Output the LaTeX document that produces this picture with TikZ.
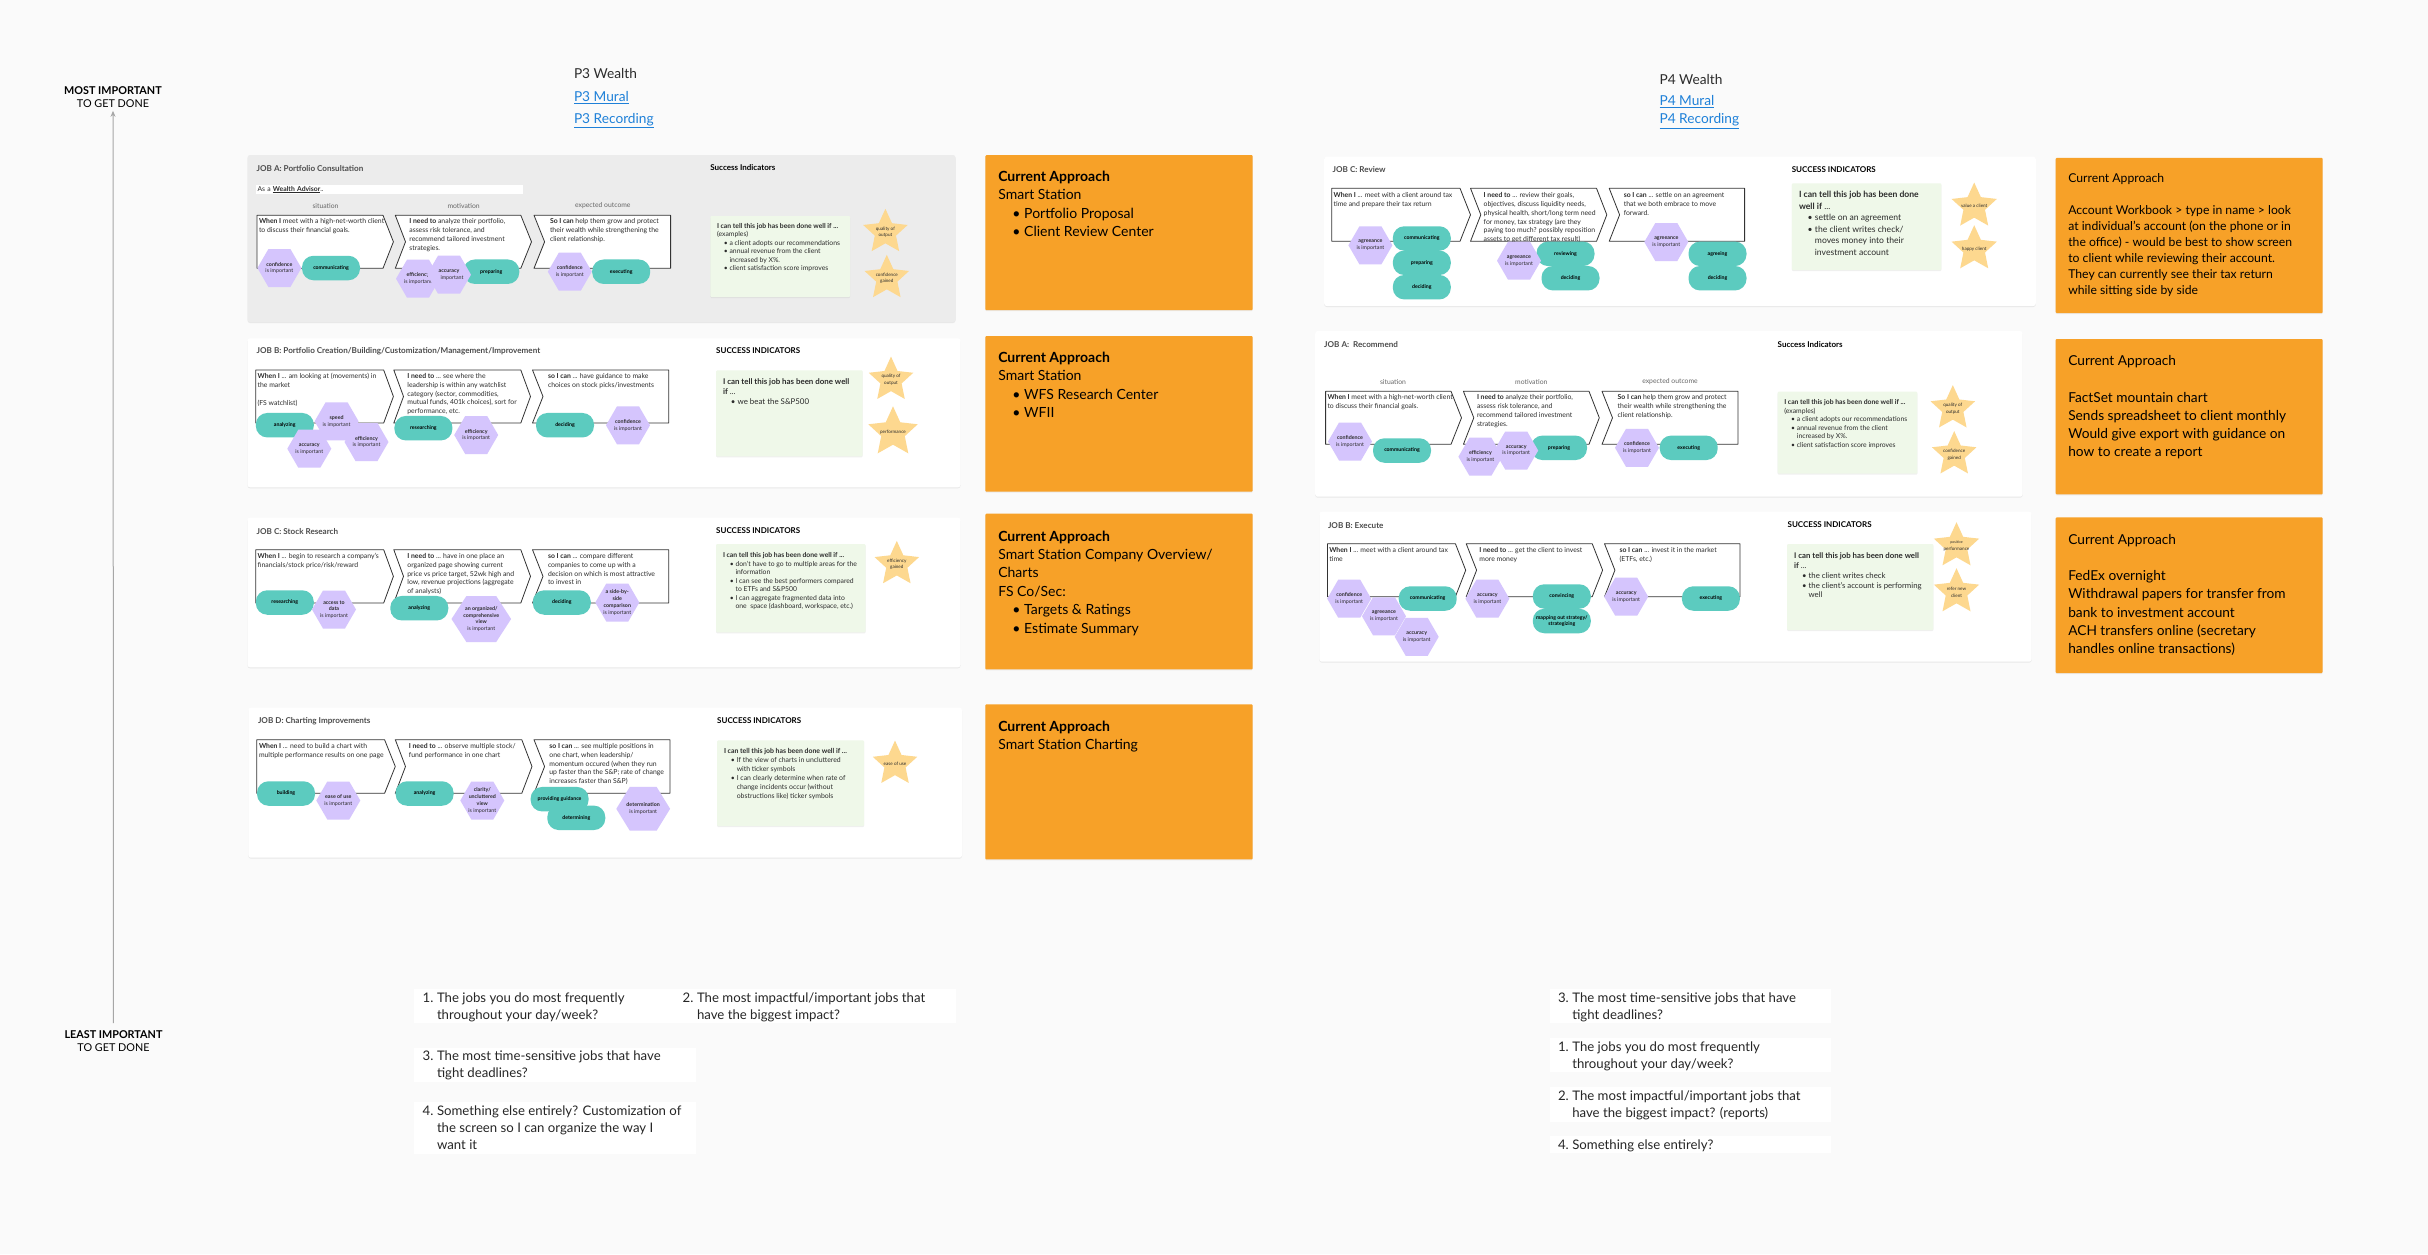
\documentclass[tikz,border=0pt]{standalone}
\usepackage{fontspec}
\setmainfont{Lato}
\usetikzlibrary{shapes.geometric,shadows,positioning,arrows.meta}

\definecolor{pagebg}{HTML}{FAFAFA}
\definecolor{cardgrey}{HTML}{ECECEC}
\definecolor{pilltone}{HTML}{5CCBBF}
\definecolor{hextone}{HTML}{D5C5FD}
\definecolor{startone}{HTML}{FDD88F}
\definecolor{greenbox}{HTML}{EFF8E9}
\definecolor{orangebox}{HTML}{F7A128}
\definecolor{linkblue}{HTML}{1E80D8}
\definecolor{inktone}{HTML}{2B2B2B}

\newcommand{\fs}[2]{\fontsize{#1}{#2}\selectfont}
\newcommand{\imp}[1]{\textbf{#1}\\is important}
\newcommand{\bi}[1]{\hspace*{1em}\makebox[0.85em][l]{\textbullet}#1}
\newcommand{\bc}[1]{\hspace*{1.85em}#1}
\newcommand{\num}[2]{\makebox[0pt][r]{#1.\hspace{3.5pt}}#2}

% chevrons: first has a flat tail, last has a flat head
\newcommand{\chevfirst}[5]{\draw[chevline] (#1,#4) -- (#2,#4) -- (#3,{(#4+#5)/2}) -- (#2,#5) -- (#1,#5) -- cycle;}
\newcommand{\chevmid}[6]{\draw[chevline] (#1,#5) -- (#3,#5) -- (#4,{(#5+#6)/2}) -- (#3,#6) -- (#1,#6) -- (#2,{(#5+#6)/2}) -- cycle;}
\newcommand{\chevlast}[5]{\draw[chevline] (#1,#4) -- (#3,#4) -- (#3,#5) -- (#1,#5) -- (#2,{(#4+#5)/2}) -- cycle;}
% hexagons: name, x, y, width, height, text
\newcommand{\hexb}[6]{%
	\fill[hextone] ({#2-#4/2},#3) -- ({#2-#4/4},{#3-#5/2}) -- ({#2+#4/4},{#3-#5/2}) -- ({#2+#4/2},#3) -- ({#2+#4/4},{#3+#5/2}) -- ({#2-#4/4},{#3+#5/2}) -- cycle;
	\node[hextext] (#1) at (#2,#3) {#6};}
\newcommand{\hexa}[4]{\hexb{#1}{#2}{#3}{44}{38}{#4}}
% stars: name, x, y, radius, text
\newcommand{\badge}[5]{%
	\node[starmark, minimum size=#4*2pt] (#1) at (#2,#3) {};
	\node[startext] (#1t) at (#2,#3) {#5};}

\tikzset{
	every node/.style={inner sep=0pt, outer sep=0pt, text=inktone},
	jobcard/.style={fill=white, rounded corners=2.5pt, anchor=north west, drop shadow={opacity=.14, shadow xshift=0pt, shadow yshift=-1pt}},
	greycard/.style={jobcard, fill=cardgrey},
	successbox/.style={fill=greenbox, anchor=north west, rounded corners=1pt, drop shadow={opacity=.12, shadow xshift=0pt, shadow yshift=-1pt}},
	approachbox/.style={fill=orangebox, anchor=north west, rounded corners=1pt, drop shadow={opacity=.12, shadow xshift=0pt, shadow yshift=-1pt}},
	whitebar/.style={fill=white, anchor=north west},
	jobtitle/.style={anchor=west, font=\fs{8.1}{9}\bfseries, text=black!70},
	sucstitle/.style={anchor=west, font=\fs{8}{9}\bfseries, text=black},
	steplabel/.style={font=\fs{6.8}{8}, text=black!60},
	chevline/.style={draw=black!80, line width=0.8pt, fill=white, line join=round},
	chevtext/.style={anchor=north west, align=left, yshift=-0.5pt, font=\fs{6.85}{8.75}},
	succtext/.style={anchor=north west, align=left, yshift=-0.5pt, font=\fs{6.8}{8.55}},
	pill/.style={fill=pilltone, rounded corners=11.5pt, minimum width=58pt, minimum height=24.5pt, align=center, font=\fs{5.2}{6.6}\bfseries, text=black},
	hextext/.style={align=center, font=\fs{5.3}{6.8}},
	starmark/.style={star, star points=5, star point ratio=2.1, fill=startone},
	startext/.style={align=center, font=\fs{4.6}{6.8}},
	apptext/.style={anchor=north west, align=left, yshift=-2pt, font=\fs{14}{18.4}, text=black},
	listtext/.style={anchor=north west, align=left, yshift=-1pt, font=\fs{13.2}{17}, text=black!85},
	headtext/.style={anchor=west, font=\fs{13.7}{16}},
	linktext/.style={headtext, yshift=-1.5pt, text=linkblue},
	axislabel/.style={align=center, font=\fs{10.8}{13.7}, text=black},
}

\begin{document}
\begin{tikzpicture}[x=1pt, y=-1pt]
	\useasboundingbox (0,0) rectangle (2428,1254);
	\fill[pagebg] (0,0) rectangle (2428,1254);

	% importance axis
	\node[axislabel] (most) at (113,97) {\textbf{MOST IMPORTANT}\\TO GET DONE};
	\node[axislabel] (least) at (113.5,1041) {\textbf{LEAST IMPORTANT}\\TO GET DONE};
	\draw[black!35, line width=1pt, -{Stealth[length=6pt, width=5pt]}, shorten >=3pt, shorten <=7pt] (least.north) -- (most.south);

	% column headers
	\node[headtext] (pthree) at (574,74) {P3 Wealth};
	\node[linktext] (pthreem) at (574,96.5) {\underline{P3 Mural}};
	\node[linktext] (pthreer) at (574,119) {\underline{P3 Recording}};
	\node[headtext] (pfour) at (1659.5,79.5) {P4 Wealth};
	\node[linktext] (pfourm) at (1659.5,100.5) {\underline{P4 Mural}};
	\node[linktext] (pfourr) at (1659.5,119.5) {\underline{P4 Recording}};

	% P3 job A
	\node[greycard, minimum width=708pt, minimum height=167pt] (cardpa) at (247.5,155) {};
	\node[jobtitle] (cardpat) at (256.7,168.7) {JOB A: Portfolio Consultation};
	\node[sucstitle] (cardpas) at (710.4,168) {Success Indicators};
	\node[whitebar, minimum width=267pt, minimum height=9pt, text width=266pt, align=left, font=\fs{6.8}{8}] (advisor) at (256,185) {\hspace*{1pt}As a \underline{\textbf{Wealth Advisor}}..};
	\node[steplabel] (pasit) at (325.5,205.7) {situation};
	\node[steplabel] (pamot) at (463.6,205.7) {motivation};
	\node[steplabel] (paexp) at (602.8,205.7) {expected outcome};
	\chevfirst{257}{383}{393.4}{215.3}{268.3}
	\chevmid{395.3}{405.5}{520.8}{531.5}{215.3}{268.3}
	\chevlast{534}{544.6}{670.6}{215.3}{268.3}
	\node[chevtext] (pat1) at (259,218.4) {\textbf{When I} meet with a high-net-worth client\\to discuss their financial goals.};
	\node[chevtext] (pat2) at (409.4,218.4) {\textbf{I need to} analyze their portfolio,\\assess risk tolerance, and\\recommend tailored investment\\strategies.};
	\node[chevtext] (pat3) at (550,218.4) {\textbf{So I can} help them grow and protect\\their wealth while strengthening the\\client relationship.};
	\hexa{pah1}{279.4}{268}{\imp{confidence}}
	\node[pill] (pap1) at (331,268) {communicating};
	\hexa{pah2}{418}{278.7}{\imp{efficiency}}
	\node[pill, minimum width=56pt] (pap2) at (491.3,271.7) {preparing};
	\hexa{pah3}{449}{274.7}{\textbf{accuracy}\\\hspace*{6pt}important}
	\hexa{pah4}{569.8}{271.7}{\imp{confidence}}
	\node[pill] (pap3) at (621.2,271.7) {executing};
	\node[successbox, minimum width=139.6pt, minimum height=81pt] (pasb) at (710.4,216) {};
	\node[succtext] (past) at (717,222.6) {\textbf{I can tell this job has been done well if ...}\\(examples)\\\bi{a client adopts our recommendations}\\\bi{annual revenue from the client}\\\bc{increased by X\%.}\\\bi{client satisfaction score improves}};
	\badge{pas1}{885.4}{232.2}{23.4}{quality of\\output}
	\badge{pas2}{886.8}{278.2}{23.4}{confidence\\gained}

	% P3 job B
	\node[jobcard, minimum width=713pt, minimum height=149pt] (cardpb) at (247.5,338.3) {};
	\node[jobtitle] (cardpbt) at (256.7,351.7) {JOB B: Portfolio Creation/Building/Customization/Management/Improvement};
	\node[sucstitle] (cardpbs) at (716.2,351) {SUCCESS INDICATORS};
	\chevfirst{255.7}{383.7}{393.4}{370}{423}
	\chevmid{393.8}{403.5}{520.8}{530.5}{370}{423}
	\chevlast{532.5}{543}{668.7}{370}{423}
	\node[chevtext] (pbt1) at (257.6,373.1) {\textbf{When I} ... am looking at (movements) in\\the market\\[8.75pt](FS watchlist)};
	\node[chevtext] (pbt2) at (407.4,373.1) {\textbf{I need to} ... see where the\\leadership is within any watchlist\\category (sector, commodities,\\mutual funds, 401k choices), sort for\\performance, etc.};
	\node[chevtext] (pbt3) at (548,373.1) {\textbf{so I can} ... have guidance to make\\choices on stock picks/investments};
	\node[pill] (pbp1) at (284.8,425.2) {analyzing};
	\hexa{pbh1}{336.6}{421.3}{\imp{speed}}
	\hexa{pbh2}{366.5}{442}{\imp{efficiency}}
	\hexa{pbh3}{309.3}{448.7}{\imp{accuracy}}
	\node[pill] (pbp2) at (423.4,428.2) {researching};
	\hexa{pbh4}{476.2}{435}{\imp{efficiency}}
	\node[pill] (pbp3) at (565,425.2) {deciding};
	\hexa{pbh5}{628}{425.3}{\imp{confidence}}
	\node[successbox, minimum width=146.4pt, minimum height=86pt] (pbsb) at (716.2,370.3) {};
	\node[succtext, font=\fs{7.9}{9.9}] (pbst) at (723,378) {\textbf{I can tell this job has been done well}\\\textbf{if} ...\\\bi{we beat the S\&P500}};
	\badge{pbs1}{891}{380}{23.4}{quality of\\output}
	\badge{pbs2}{893}{432.3}{26}{performance}

	% P3 job C
	\node[jobcard, minimum width=713pt, minimum height=149.6pt] (cardpc) at (247.5,517.7) {};
	\node[jobtitle] (cardpct) at (256.7,531.3) {JOB C: Stock Research};
	\node[sucstitle] (cardpcs) at (716.2,530.7) {SUCCESS INDICATORS};
	\chevfirst{255.7}{383.7}{393.4}{549.7}{603}
	\chevmid{393.8}{403.5}{520.8}{530.5}{549.7}{603}
	\chevlast{532.5}{543}{668.7}{549.7}{603}
	\node[chevtext] (pct1) at (257.6,553.1) {\textbf{When I} ... begin to research a company's\\financials/stock price/risk/reward};
	\node[chevtext] (pct2) at (407.4,553.1) {\textbf{I need to} ... have in one place an\\organized page showing current\\price vs price target, 52wk high and\\low, revenue projections (aggregate\\of analysts)};
	\node[chevtext] (pct3) at (548,553.1) {\textbf{so I can} ... compare different\\companies to come up with a\\decision on which is most attractive\\to invest in};
	\node[pill] (pcp1) at (284.8,602.5) {researching};
	\hexa{pch1}{334}{609.5}{\textbf{access to}\\\textbf{data}\\is important}
	\node[pill] (pcp2) at (419.3,608.2) {analyzing};
	\hexb{pch2}{481.3}{619}{59.6}{46}{\textbf{an organized/}\\\textbf{comprehensive}\\\textbf{view}\\is important}
	\node[pill] (pcp3) at (561.8,602.5) {deciding};
	\hexa{pch3}{617.3}{602.5}{\textbf{a side-by-}\\\textbf{side}\\\textbf{comparison}\\is important}
	\node[successbox, minimum width=149.3pt, minimum height=88.3pt] (pcsb) at (716.2,544) {};
	\node[succtext] (pcst) at (723,552) {\textbf{I can tell this job has been done well if ...}\\\bi{don't have to go to multiple areas for the}\\\bc{information}\\\bi{I can see the best performers compared}\\\bc{to ETFs and S\&P500}\\\bi{I can aggregate fragmented data into}\\\bc{one\ \ space (dashboard, workspace, etc.)}};
	\badge{pcs1}{896.8}{564.3}{23.4}{efficiency\\gained}

	% P3 job D
	\node[jobcard, minimum width=713.6pt, minimum height=150pt] (cardpd) at (248.4,707.7) {};
	\node[jobtitle] (cardpdt) at (258,721.7) {JOB D: Charting Improvements};
	\node[sucstitle] (cardpds) at (717.2,720.7) {SUCCESS INDICATORS};
	\chevfirst{256.7}{384.6}{395.3}{739.7}{793.3}
	\chevmid{395.3}{405.5}{521.8}{532}{739.7}{793.3}
	\chevlast{534}{544.6}{670}{739.7}{793.3}
	\node[chevtext] (pdt1) at (259,743.1) {\textbf{When I} ... need to build a chart with\\multiple performance results on one page};
	\node[chevtext] (pdt2) at (408.9,743.1) {\textbf{I need to} ... observe multiple stock/\\fund performance in one chart};
	\node[chevtext] (pdt3) at (549.4,743.1) {\textbf{so I can} ... see multiple positions in\\one chart, when leadership/\\momentum occured (when they run\\up faster than the S\&P; rate of change\\increases faster than S\&P)};
	\node[pill] (pdp1) at (286,793.5) {building};
	\hexa{pdh1}{338.3}{800.5}{\imp{ease of use}}
	\node[pill] (pdp2) at (424.6,793.5) {analyzing};
	\hexa{pdh2}{482.3}{800.5}{\textbf{clarity/}\\\textbf{uncluttered}\\\textbf{view}\\is important}
	\node[pill] (pdp3) at (559.6,799.2) {providing guidance};
	\node[pill] (pdp4) at (576.3,817.8) {determining};
	\hexb{pdh3}{643.2}{808.8}{53.8}{43.7}{\imp{determination}}
	\node[successbox, minimum width=146.8pt, minimum height=85.7pt] (pdsb) at (717.2,740.3) {};
	\node[succtext, font=\fs{6.9}{9}] (pdst) at (724,748) {\textbf{I can tell this job has been done well if ...}\\\bi{If the view of charts in uncluttered}\\\bc{with ticker symbols}\\\bi{I can clearly determine when rate of}\\\bc{change incidents occur (without}\\\bc{obstructions like) ticker symbols}};
	\badge{pds1}{895}{764}{23.4}{ease of use}

	% P3 current approach
	\node[approachbox, minimum width=267.4pt, minimum height=155pt] (appa) at (985.3,155.2) {};
	\node[apptext] (appat) at (998.3,169) {\textbf{Current Approach}\\Smart Station\\\bi{Portfolio Proposal}\\\bi{Client Review Center}};
	\node[approachbox, minimum width=267.4pt, minimum height=155.7pt] (appb) at (985.3,336) {};
	\node[apptext] (appbt) at (998.3,350) {\textbf{Current Approach}\\Smart Station\\\bi{WFS Research Center}\\\bi{WFII}};
	\node[approachbox, minimum width=267.4pt, minimum height=155.7pt] (appc) at (985.3,513.7) {};
	\node[apptext] (appct) at (998.3,528.6) {\textbf{Current Approach}\\Smart Station Company Overview/\\Charts\\FS Co/Sec:\\\bi{Targets \& Ratings}\\\bi{Estimate Summary}};
	\node[approachbox, minimum width=267.4pt, minimum height=155pt] (appd) at (985.3,704.3) {};
	\node[apptext] (appdt) at (998.3,718.7) {\textbf{Current Approach}\\Smart Station Charting};

	% P4 job C
	\node[jobcard, minimum width=711.6pt, minimum height=149.3pt] (cardqc) at (1324.2,156.7) {};
	\node[jobtitle] (cardqct) at (1332.7,170) {JOB C: Review};
	\node[sucstitle] (cardqcs) at (1791.8,169.3) {SUCCESS INDICATORS};
	\chevfirst{1331.7}{1460}{1470.5}{188.3}{241.3}
	\chevmid{1470.5}{1480.8}{1596.5}{1606.8}{188.3}{241.3}
	\chevlast{1609.2}{1619.6}{1744.6}{188.3}{241.3}
	\node[chevtext] (qct1) at (1333.6,192.3) {\textbf{When I} ... meet with a client around tax\\time and prepare their tax return};
	\node[chevtext] (qct2) at (1483.7,192.3) {\textbf{I need to} ... review their goals,\\objectives, discuss liquidity needs,\\physical health, short/long term need\\for money, tax strategy (are they\\paying too much? possibly reposition\\assets to get different tax result)};
	\node[chevtext] (qct3) at (1623.8,192.3) {\textbf{so I can} ... settle on an agreement\\that we both embrace to move\\forward.};
	\hexa{qch1}{1370.4}{245.3}{\imp{agreeance}}
	\node[pill] (qcp1) at (1421.8,238.5) {communicating};
	\node[pill] (qcp2) at (1421.8,262.8) {preparing};
	\node[pill] (qcp3) at (1421.8,287.2) {deciding};
	\node[pill] (qcp4) at (1565.5,253.8) {reviewing};
	\node[pill] (qcp5) at (1570.5,278.2) {deciding};
	\hexa{qch2}{1519}{260.7}{\imp{agreeance}}
	\hexa{qch3}{1666.3}{242}{\imp{agreeance}}
	\node[pill] (qcp6) at (1717.5,253.8) {agreeing};
	\node[pill] (qcp7) at (1717.5,278.2) {deciding};
	\node[successbox, minimum width=149.6pt, minimum height=86.7pt] (qcsb) at (1791.8,183.3) {};
	\node[succtext, font=\fs{8.6}{11.5}] (qcst) at (1799,191) {\textbf{I can tell this job has been done}\\\textbf{well if} ...\\\bi{settle on an agreement}\\\bi{the client writes check/}\\\bc{moves money into their}\\\bc{investment account}};
	\badge{qcs1}{1974.2}{206.3}{23.8}{value a client}
	\badge{qcs2}{1974.2}{249}{23.8}{happy client}

	% P4 job A
	\node[jobcard, minimum width=707.4pt, minimum height=165.7pt] (cardqa) at (1315.2,331) {};
	\node[jobtitle] (cardqat) at (1324.2,344.7) {JOB A:\ \ Recommend};
	\node[sucstitle] (cardqas) at (1777.7,344.3) {Success Indicators};
	\node[steplabel] (qasit) at (1393,382) {situation};
	\node[steplabel] (qamot) at (1531.3,382) {motivation};
	\node[steplabel] (qaexp) at (1670,382) {expected outcome};
	\chevfirst{1325.6}{1451}{1461.5}{391.3}{444.3}
	\chevmid{1463.4}{1473.8}{1589}{1599.3}{391.3}{444.3}
	\chevlast{1602}{1612.5}{1738}{391.3}{444.3}
	\node[chevtext] (qat1) at (1327.5,394.3) {\textbf{When I} meet with a high-net-worth client\\to discuss their financial goals.};
	\node[chevtext] (qat2) at (1477,394.3) {\textbf{I need to} analyze their portfolio,\\assess risk tolerance, and\\recommend tailored investment\\strategies.};
	\node[chevtext] (qat3) at (1617.7,394.3) {\textbf{So I can} help them grow and protect\\their wealth while strengthening the\\client relationship.};
	\hexa{qah1}{1350}{441.5}{\imp{confidence}}
	\node[pill] (qap1) at (1402,450.5) {communicating};
	\hexa{qah2}{1480.4}{456.7}{\imp{efficiency}}
	\node[pill, minimum width=56pt] (qap2) at (1559,447.8) {preparing};
	\hexa{qah3}{1516.2}{450.5}{\imp{accuracy}}
	\hexa{qah4}{1637}{447.8}{\imp{confidence}}
	\node[pill] (qap3) at (1688.7,447.8) {executing};
	\node[successbox, minimum width=139.7pt, minimum height=82pt] (qasb) at (1777.7,391.7) {};
	\node[succtext] (qast) at (1784.3,399) {\textbf{I can tell this job has been done well if ...}\\(examples)\\\bi{a client adopts our recommendations}\\\bi{annual revenue from the client}\\\bc{increased by X\%.}\\\bi{client satisfaction score improves}};
	\badge{qas1}{1952.8}{408.5}{23.4}{quality of\\output}
	\badge{qas2}{1954.2}{454.5}{23.4}{confidence\\gained}

	% P4 job B
	\node[jobcard, minimum width=712.2pt, minimum height=150pt] (cardqb) at (1319.4,511.7) {};
	\node[jobtitle] (cardqbt) at (1328,525.3) {JOB B: Execute};
	\node[sucstitle] (cardqbs) at (1787.6,525) {SUCCESS INDICATORS};
	\chevfirst{1327.5}{1455.4}{1465.7}{543.7}{596.7}
	\chevmid{1466.2}{1476.6}{1592.2}{1602.6}{543.7}{596.7}
	\chevlast{1604.5}{1614.9}{1740}{543.7}{596.7}
	\node[chevtext] (qbt1) at (1329.3,547.2) {\textbf{When I} ... meet with a client around tax\\time};
	\node[chevtext] (qbt2) at (1479.4,547.2) {\textbf{I need to} ... get the client to invest\\more money};
	\node[chevtext] (qbt3) at (1619.6,547.2) {\textbf{so I can} ... invest it in the market\\(ETFs, etc.)};
	\hexa{qbh1}{1349.2}{598.7}{\imp{confidence}}
	\hexa{qbh2}{1384}{616.3}{\imp{agreeance}}
	\hexa{qbh3}{1416.7}{636.8}{\imp{accuracy}}
	\node[pill] (qbp1) at (1427.7,598.5) {communicating};
	\hexa{qbh4}{1487.4}{598.7}{\imp{accuracy}}
	\node[pill] (qbp2) at (1561.8,596.5) {convincing};
	\node[pill] (qbp3) at (1561.8,621) {mapping out strategy/\\strategizing};
	\hexa{qbh5}{1626.2}{596.7}{\imp{accuracy}}
	\node[pill] (qbp4) at (1710.9,598.5) {executing};
	\node[successbox, minimum width=146.3pt, minimum height=86pt] (qbsb) at (1787.1,544) {};
	\node[succtext, font=\fs{7.8}{9.9}] (qbst) at (1794.2,552) {\textbf{I can tell this job has been done well}\\\textbf{if} ...\\\bi{the client writes check}\\\bi{the client's account is performing}\\\bc{well}};
	\badge{qbs1}{1956.5}{546}{23.8}{\fs{3.6}{5.4}positive\\performance}
	\badge{qbs2}{1956.5}{592}{23.8}{refer new\\client}

	% P4 current approach
	\node[approachbox, minimum width=267pt, minimum height=155.3pt] (appe) at (2055.7,157.9) {};
	\node[apptext, font=\fs{12.2}{16}] (appet) at (2068.3,172) {Current Approach\\[16pt]Account Workbook > type in name > look\\at individual's account (on the phone or in\\the office) - would be best to show screen\\to client while reviewing their account.\\They can currently see their tax return\\while sitting side by side};
	\node[approachbox, minimum width=267pt, minimum height=155.3pt] (appf) at (2055.7,339) {};
	\node[apptext, font=\fs{13.7}{18.3}] (appft) at (2068.3,353.6) {Current Approach\\[18pt]FactSet mountain chart\\Sends spreadsheet to client monthly\\Would give export with guidance on\\how to create a report};
	\node[approachbox, minimum width=267pt, minimum height=155.6pt] (appg) at (2055.7,517.4) {};
	\node[apptext, font=\fs{13.7}{18.3}] (appgt) at (2068.3,532) {Current Approach\\[18pt]FedEx overnight\\Withdrawal papers for transfer from\\bank to investment account\\ACH transfers online (secretary\\handles online transactions)};

	% P3 question list
	\node[whitebar, minimum width=541.7pt, minimum height=34pt] (barpa) at (414,989.3) {};
	\node[whitebar, minimum width=282pt, minimum height=34pt] (barpb) at (414,1047.7) {};
	\node[whitebar, minimum width=282pt, minimum height=51.4pt] (barpc) at (414,1102.3) {};
	\node[listtext] (lista) at (437,992) {\num{1}{The jobs you do most frequently}\\throughout your day/week?};
	\node[listtext] (listb) at (697,992) {\num{2}{The most impactful/important jobs that}\\have the biggest impact?};
	\node[listtext] (listc) at (437,1049.7) {\num{3}{The most time-sensitive jobs that have}\\tight deadlines?};
	\node[listtext] (listd) at (437,1104.7) {\num{4}{Something else entirely? Customization of}\\the screen so I can organize the way I\\want it};

	% P4 question list
	\node[whitebar, minimum width=281.3pt, minimum height=34pt] (barqa) at (1549.7,989.3) {};
	\node[whitebar, minimum width=281.3pt, minimum height=34pt] (barqb) at (1549.7,1038.3) {};
	\node[whitebar, minimum width=281.3pt, minimum height=34.4pt] (barqc) at (1549.7,1087.3) {};
	\node[whitebar, minimum width=281.3pt, minimum height=17.3pt] (barqd) at (1549.7,1135.7) {};
	\node[listtext] (liste) at (1572.3,992) {\num{3}{The most time-sensitive jobs that have}\\tight deadlines?};
	\node[listtext] (listf) at (1572.3,1041) {\num{1}{The jobs you do most frequently}\\throughout your day/week?};
	\node[listtext] (listg) at (1572.3,1090) {\num{2}{The most impactful/important jobs that}\\have the biggest impact? (reports)};
	\node[listtext] (listh) at (1572.3,1138.4) {\num{4}{Something else entirely?}};
\end{tikzpicture}
\end{document}
